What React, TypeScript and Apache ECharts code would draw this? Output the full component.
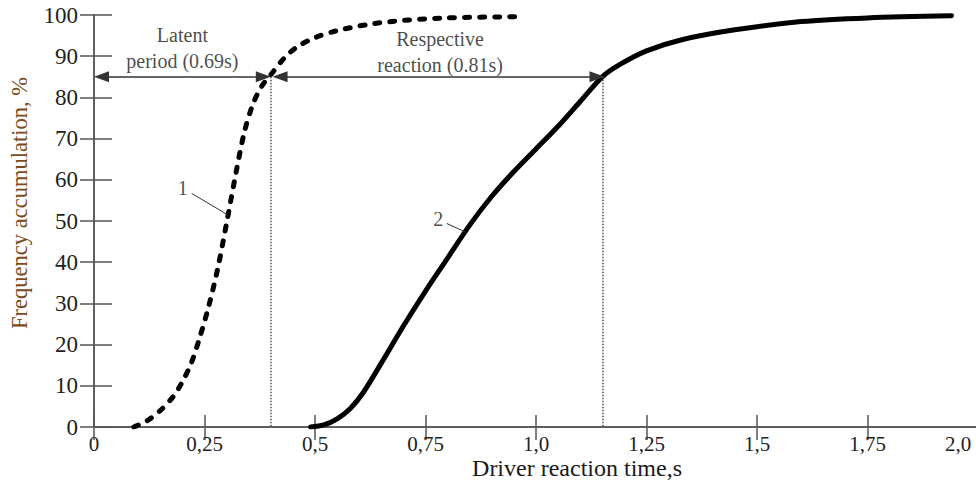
import React, { useEffect, useRef } from "react";
import * as echarts from "echarts";

const xTickLabels = ["0", "0,25", "0,5", "0,75", "1,0", "1,25", "1,5", "1,75", "2,0"];

const curve1X = [0.09, 0.12, 0.15, 0.18, 0.2, 0.22, 0.24, 0.26, 0.28, 0.3, 0.32, 0.34, 0.36, 0.38, 0.4, 0.43, 0.46, 0.5, 0.55, 0.62, 0.7, 0.8, 0.96];
const curve1Y = [0, 1.5, 4, 7.5, 11, 15.5, 22, 29.5, 38.5, 49.5, 61, 71.5, 78.5, 82.8, 85.5, 89.5, 92.3, 94.5, 96.2, 97.7, 98.7, 99.3, 99.6];

const curve2X = [0.49, 0.52, 0.55, 0.58, 0.61, 0.65, 0.7, 0.75, 0.8, 0.85, 0.9, 0.95, 1.0, 1.05, 1.1, 1.15, 1.19, 1.25, 1.33, 1.45, 1.6, 1.75, 1.94];
const curve2Y = [0, 0.5, 2, 4.5, 8.5, 15.5, 24.5, 33, 41, 49, 56, 62, 67.5, 73, 79, 85, 88, 91.3, 94, 96.4, 98.4, 99.3, 99.8];

const latentStart = 0;
const latentEnd = 0.4;
const reactionEnd = 1.155;
const levelY = 85;
const headHalf = 0.017;

const annotations = [
  { x: 0.2, y: 92.1, text: "Latent\nperiod (0.69s)" },
  { x: 0.783, y: 90.9, text: "Respective\nreaction (0.81s)" },
  { x: 0.201, y: 58.0, text: "1" },
  { x: 0.779, y: 50.4, text: "2" },
];

const leaders = [
  [[0.221, 56.7], [0.304, 51.4]],
  [[0.798, 49.4], [0.839, 47.4]],
];

const FONT = "'Liberation Serif', 'Times New Roman', serif";

export default function App() {
  const ref = useRef<HTMLDivElement>(null);
  useEffect(() => {
    if (!ref.current) return;
    const chart = echarts.init(ref.current, undefined, { renderer: "svg" });
    const axisLine = { lineStyle: { color: "#555", width: 1.5 } };
    const lastIdx = xTickLabels.length - 1;
    chart.setOption({
      animation: false,
      grid: { left: 94, right: 22, top: 15, bottom: 59 },
      xAxis: [
        {
          type: "value",
          min: 0,
          max: 2,
          interval: 0.25,
          axisLine,
          axisTick: { inside: true, length: 12, lineStyle: { color: "#555", width: 1.5 } },
          splitLine: { show: false },
          axisLabel: {
            margin: 6,
            fontFamily: FONT,
            fontSize: 21,
            color: "#222",
            formatter: (v: number) => {
              const i = Math.round(v / 0.25);
              const t = xTickLabels[i] ?? "";
              return i === lastIdx ? "{e|" + t + "}" : t;
            },
            rich: {
              e: { fontFamily: FONT, fontSize: 21, color: "#222", padding: [0, 40, 0, 0] },
            },
          },
        },
        {
          type: "value",
          position: "top",
          min: 0,
          max: 2,
          interval: 0.25,
          axisLine,
          axisTick: { inside: true, length: 13, lineStyle: { color: "#555", width: 1.5 } },
          axisLabel: { show: false },
          splitLine: { show: false },
        },
      ],
      yAxis: [
        {
          type: "value",
          min: 0,
          max: 100,
          interval: 10,
          axisLine,
          axisTick: { inside: true, length: 18, lineStyle: { color: "#555", width: 1.5 } },
          splitLine: { show: false },
          axisLabel: { margin: 16, fontFamily: FONT, fontSize: 23, color: "#222" },
        },
        {
          type: "value",
          position: "right",
          min: 0,
          max: 100,
          interval: 10,
          axisLine,
          axisTick: { inside: true, length: 14, lineStyle: { color: "#555", width: 1.5 } },
          axisLabel: { show: false },
          splitLine: { show: false },
        },
      ],
      graphic: [
        {
          type: "text",
          x: 577,
          y: 468,
          style: {
            text: "Driver reaction time,s",
            fontFamily: FONT,
            fontSize: 24,
            fill: "#1a1a1a",
            align: "center",
            verticalAlign: "middle",
          },
        },
        {
          type: "text",
          x: 19,
          y: 203,
          rotation: Math.PI / 2,
          style: {
            text: "Frequency accumulation, %",
            fontFamily: FONT,
            fontSize: 22.5,
            fill: "#7b4b20",
            align: "center",
            verticalAlign: "middle",
          },
        },
      ],
      series: [
        {
          type: "line",
          data: curve1X.map((x, i) => [x, curve1Y[i]]),
          smooth: 0.3,
          showSymbol: false,
          lineStyle: { color: "#000", width: 5, type: [5, 10], cap: "round" },
          silent: true,
        },
        {
          type: "line",
          data: curve2X.map((x, i) => [x, curve2Y[i]]),
          smooth: 0.3,
          showSymbol: false,
          lineStyle: { color: "#000", width: 5, cap: "round" },
          silent: true,
        },
        {
          type: "line",
          data: [],
          markLine: {
            silent: true,
            animation: false,
            symbol: ["triangle", "triangle"],
            symbolSize: [11, 15],
            label: { show: false },
            lineStyle: { color: "#333", width: 1.5, type: "solid" },
            data: [
              [{ coord: [latentStart + headHalf, levelY] }, { coord: [latentEnd - headHalf, levelY] }],
              [{ coord: [latentEnd + headHalf + 0.004, levelY] }, { coord: [reactionEnd - headHalf, levelY] }],
            ],
          },
        },
        {
          type: "line",
          data: [],
          markLine: {
            silent: true,
            animation: false,
            symbol: ["none", "none"],
            label: { show: false },
            lineStyle: { color: "#555", width: 1.5, type: "dotted" },
            data: [
              [{ coord: [latentEnd, levelY] }, { coord: [latentEnd, 0] }],
              [{ coord: [reactionEnd - 0.004, levelY] }, { coord: [reactionEnd - 0.004, 0] }],
            ],
          },
        },
        {
          type: "line",
          data: [],
          markLine: {
            silent: true,
            animation: false,
            symbol: ["none", "none"],
            label: { show: false },
            lineStyle: { color: "#333", width: 1, type: "solid" },
            data: leaders.map((l) => [{ coord: l[0] }, { coord: l[1] }]),
          },
        },
        {
          type: "scatter",
          symbolSize: 0,
          silent: true,
          data: annotations.map((a) => [a.x, a.y, a.text]),
          label: {
            show: true,
            position: "inside",
            formatter: (p: any) => p.data[2],
            fontFamily: FONT,
            fontSize: 20,
            lineHeight: 26,
            color: "#1a1a1a",
            align: "center",
          },
        },
      ],
    });
    return () => chart.dispose();
  }, []);
  return (
    <div style={{ position: "fixed", left: 0, top: 0, width: 976, height: 486, overflow: "hidden", background: "#fff" }}>
      <div ref={ref} style={{ width: 1000, height: 486 }} />
    </div>
  );
}
